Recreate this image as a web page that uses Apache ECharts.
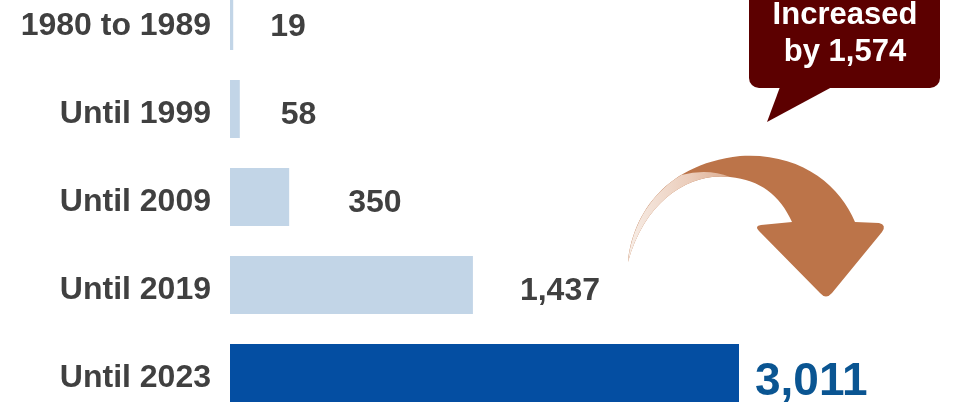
<!DOCTYPE html>
<html>
<head>
<meta charset="utf-8">
<script src="https://cdn.jsdelivr.net/npm/echarts@6/dist/echarts.min.js"></script>
<style>
html,body{margin:0;padding:0;background:#fff;}
#chart{width:953px;height:403px;}
</style>
</head>
<body>
<div id="chart"></div>
<script>
const categories = ['1980 to 1989', 'Until 1999', 'Until 2009', 'Until 2019', 'Until 2023'];
const values = [19, 58, 350, 1437, 3011];
const calloutLines = ['Increased', 'by 1,574'];

const FONT = "'Liberation Sans', Arial, sans-serif";
const labelGaps = [37, 41, 59, 47, 16];

const ARROW_PATH = 'M 628 262 C 632 220 660 165 740 156 C 800 152 840 185 855 222 L 879 223 Q 887 225 882 232 L 832 293 Q 826 300 820 293 L 759 231 Q 754 226 761 225 L 792 222 C 780 195 760 180 730 177 C 690 172 645 200 628 262 Z';
const TAIL_PATH = 'M 628 262 C 630.8 232.6 645.4 196.8 681.3 174.9 Q 708 168 730 177 C 690 172 645 200 628 262 Z';

const chart = echarts.init(document.getElementById('chart'));
const data = values.map((v, i) => {
  const last = i === values.length - 1;
  return {
    value: v,
    itemStyle: { color: last ? '#044EA2' : '#C2D5E7' },
    label: last
      ? { distance: labelGaps[i], fontSize: 46, color: '#0A5592', offset: [0, 9] }
      : { distance: labelGaps[i], fontSize: 32, color: '#404040', offset: [0, 6] }
  };
});

chart.setOption({
  animation: false,
  grid: { left: 230, width: 509, top: -23, height: 440, containLabel: false, outerBoundsMode: 'none' },
  xAxis: {
    type: 'value', min: 0, max: 3011,
    show: false
  },
  yAxis: {
    type: 'category', data: categories, inverse: true,
    axisLine: { show: false }, axisTick: { show: false }, splitLine: { show: false },
    axisLabel: {
      margin: 19, fontSize: 32, fontWeight: 'bold', color: '#404040',
      fontFamily: FONT, verticalAlign: 'top', lineHeight: 10
    }
  },
  series: [{
    type: 'bar',
    data: data,
    barWidth: 58,
    label: {
      show: true, position: 'right', fontWeight: 'bold', fontFamily: FONT,
      formatter: p => p.value.toLocaleString('en-US')
    }
  }, {
    type: 'custom',
    coordinateSystem: 'none',
    silent: true,
    z: 10,
    data: [[0]],
    renderItem: function () {
      return {
        type: 'group',
        children: [
          { type: 'path', shape: { pathData: ARROW_PATH }, style: { fill: '#BC7449' } },
          {
            type: 'path', shape: { pathData: TAIL_PATH },
            style: {
              fill: new echarts.graphic.LinearGradient(0, 0, 1, 0, [
                { offset: 0, color: '#F7EDE6' },
                { offset: 0.6, color: '#EBCDBB' },
                { offset: 1, color: '#DDAE92' }
              ])
            }
          }
        ]
      };
    }
  }],
  graphic: [
    {
      type: 'rect', z: 10,
      shape: { x: 749, y: -20, width: 191, height: 108, r: 10 },
      style: { fill: '#5C0000' }
    },
    {
      type: 'polygon', z: 10,
      shape: { points: [[780, 87], [832, 87], [767, 122]] },
      style: { fill: '#5C0000' }
    },
    {
      type: 'text', z: 11,
      style: {
        x: 845, y: 15, text: calloutLines[0], fill: '#fff',
        font: "bold 31px " + FONT, textAlign: 'center', textVerticalAlign: 'middle'
      }
    },
    {
      type: 'text', z: 11,
      style: {
        x: 845, y: 52, text: calloutLines[1], fill: '#fff',
        font: "bold 31px " + FONT, textAlign: 'center', textVerticalAlign: 'middle'
      }
    }
  ]
});
</script>
</body>
</html>
